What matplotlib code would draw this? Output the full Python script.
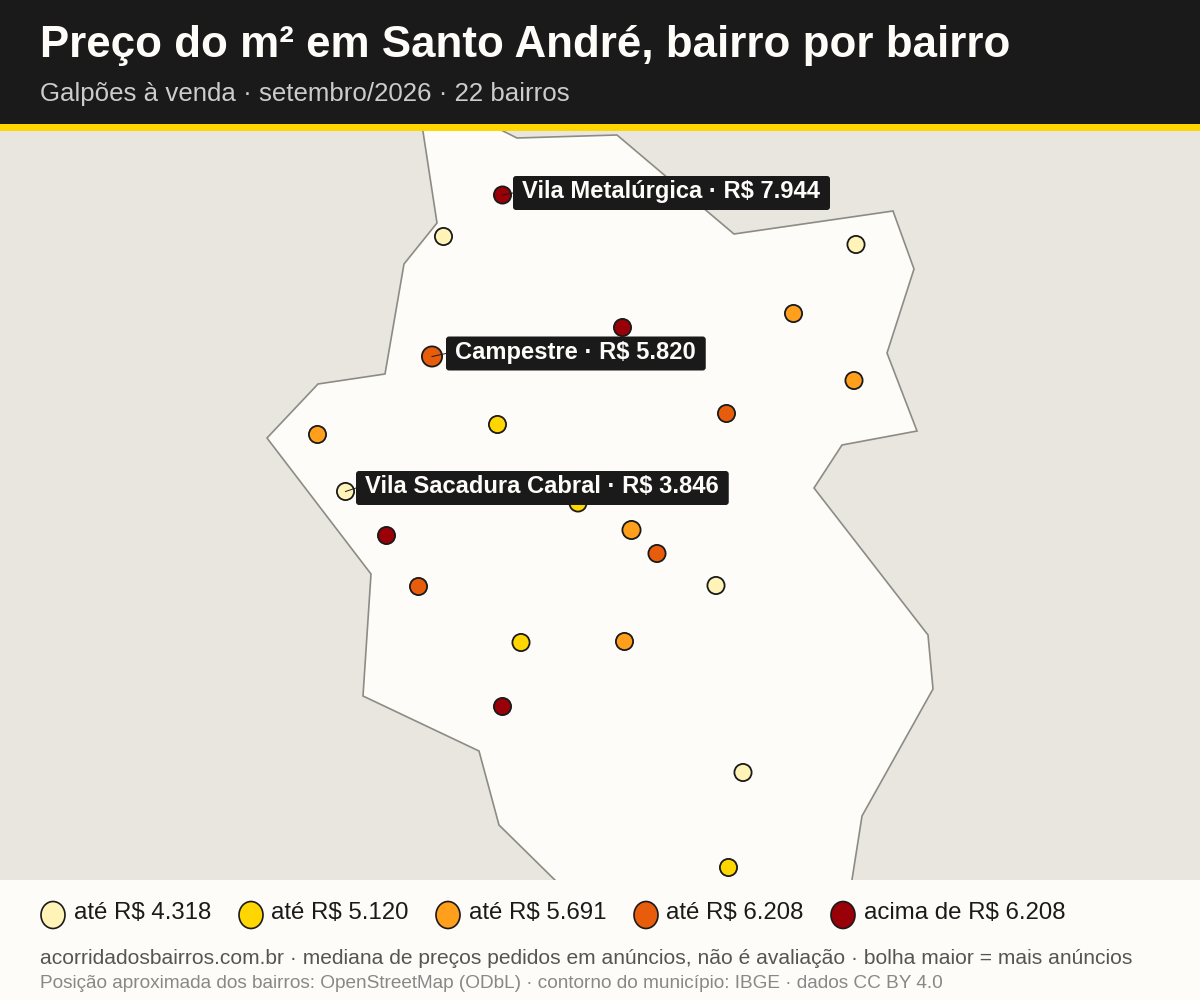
import matplotlib
matplotlib.use("Agg")
import matplotlib.pyplot as plt
from matplotlib.patches import Ellipse, FancyBboxPatch, Polygon, Rectangle

plt.rcParams["font.family"] = ["Liberation Sans", "DejaVu Sans"]

# -------------------------
# Data
# -------------------------
TITLE = "Preço do m² em Santo André, bairro por bairro"
SUBTITLE = "Galpões à venda · setembro/2026 · 22 bairros"
FOOT_1 = ("acorridadosbairros.com.br · mediana de preços pedidos em anúncios, "
          "não é avaliação · bolha maior = mais anúncios")
FOOT_2 = ("Posição aproximada dos bairros: OpenStreetMap (ODbL) · "
          "contorno do município: IBGE · dados CC BY 4.0")

# municipality outline, in map units (runs past the map frame top and bottom)
outline_x = [422, 437, 404, 385, 318, 267, 371, 363, 479, 499, 561, 851, 862,
             933, 928, 814, 842, 917, 887, 914, 893, 734, 617, 517, 491]
outline_y = [125, 223, 264, 374, 384, 438, 574, 696, 751, 825, 886, 886, 816,
             689, 635, 488, 445, 431, 353, 269, 211, 234, 135, 138, 125]

# neighbourhoods: position, price class, bubble diameter
bubble_x = [502.5, 443.5, 856, 793.5, 622.5, 432, 854, 726.5, 497.5, 317.5, 345.5,
            578, 386.5, 631.5, 657, 716, 418.5, 521, 624.5, 502.5, 743, 728.5]
bubble_y = [195, 236.5, 244.5, 313.5, 327.5, 356.5, 380.5, 413.5, 424.5, 434.5, 491.5,
            503, 535.5, 530, 553.5, 585.5, 586.5, 642.5, 641.5, 706.5, 772.5, 867.5]
bubble_class = [4, 0, 0, 2, 4, 3, 2, 3, 1, 2, 0,
                1, 4, 2, 3, 0, 3, 1, 2, 4, 0, 1]
bubble_d = [19, 19, 19, 19, 19, 22, 19, 19, 19, 19, 19,
            19, 19, 20, 19, 19, 19, 19, 19, 19, 19, 19]

class_colors = ["#FFF3B8", "#FFD600", "#FF9F1C", "#E85D0C", "#990008"]
class_labels = ["até R$ 4.318", "até R$ 5.120", "até R$ 5.691",
                "até R$ 6.208", "acima de R$ 6.208"]

# highlighted neighbourhoods: bubble index, text
callout_idx = [0, 5, 10]
callout_text = ["Vila Metalúrgica · R$ 7.944", "Campestre · R$ 5.820",
                "Vila Sacadura Cabral · R$ 3.846"]
callout_x = [522, 455, 365]
callout_y = [193, 353.5, 488]

# legend layout
legend_marker_x = [53, 251, 448, 646, 843]
legend_text_x = [74, 271, 469, 666, 864]

DARK = "#1a1a1a"
YELLOW = "#FFD600"
PAPER = "#FDFCF8"
LAND = "#E9E6DF"

# -------------------------
# Page
# -------------------------
fig = plt.figure(figsize=(12, 10), dpi=100, facecolor=PAPER)

page = fig.add_axes([0, 0, 1, 1])
page.set_xlim(0, 1200)
page.set_ylim(1000, 0)
page.axis("off")

page.add_patch(Rectangle((0, 0), 1200, 124, fc=DARK, ec="none"))
page.add_patch(Rectangle((0, 124), 1200, 7, fc=YELLOW, ec="none"))
page.text(40, 46, TITLE, color=PAPER, fontsize=31.6, fontweight="bold", va="center")
page.text(40, 94, SUBTITLE, color="#cccccc", fontsize=18.6, va="center")

# -------------------------
# Map
# -------------------------
ax = fig.add_axes([0, 0.120, 1, 0.749])
ax.set_xlim(0, 1200)
ax.set_ylim(880, 131)
ax.set_facecolor(LAND)
ax.set_xticks([])
ax.set_yticks([])
for s in ax.spines.values():
    s.set_visible(False)

ax.add_patch(Polygon(list(zip(outline_x, outline_y)), closed=True,
                     fc=PAPER, ec="#8c8c84", lw=1.2))

ax.scatter(bubble_x, bubble_y,
           s=[(d * 0.72 - 1.3) ** 2 for d in bubble_d],
           c=[class_colors[k] for k in bubble_class],
           edgecolors=DARK, linewidths=1.3, zorder=3)

renderer = fig.canvas.get_renderer()
for idx, txt, tx, ty in zip(callout_idx, callout_text, callout_x, callout_y):
    t = ax.text(tx, ty - 1.5, txt, color=PAPER, fontsize=17.1, fontweight="bold",
                va="center", ha="left", zorder=5)
    ext = t.get_window_extent(renderer)
    left = tx - 9
    width = ext.width + 19
    ax.plot([bubble_x[idx], left], [bubble_y[idx], ty], color=DARK, lw=0.7, zorder=3.5)
    ax.add_patch(FancyBboxPatch((left + 3, ty - 14), width - 6, 28,
                                boxstyle="round,pad=3,rounding_size=3",
                                fc=DARK, ec="none", zorder=4))

# -------------------------
# Legend and footer
# -------------------------
for mx, tx, col, lab in zip(legend_marker_x, legend_text_x, class_colors, class_labels):
    page.add_patch(Ellipse((mx, 915), 24, 27, fc=col, ec=DARK, lw=1.2))
    page.text(tx, 913, lab, color=DARK, fontsize=17.25, va="center")

page.text(40, 959, FOOT_1, color="#555555", fontsize=15.15, va="center")
page.text(40, 983, FOOT_2, color="#888888", fontsize=13.68, va="center")

fig.savefig("out.png", dpi=100, facecolor=fig.get_facecolor())
